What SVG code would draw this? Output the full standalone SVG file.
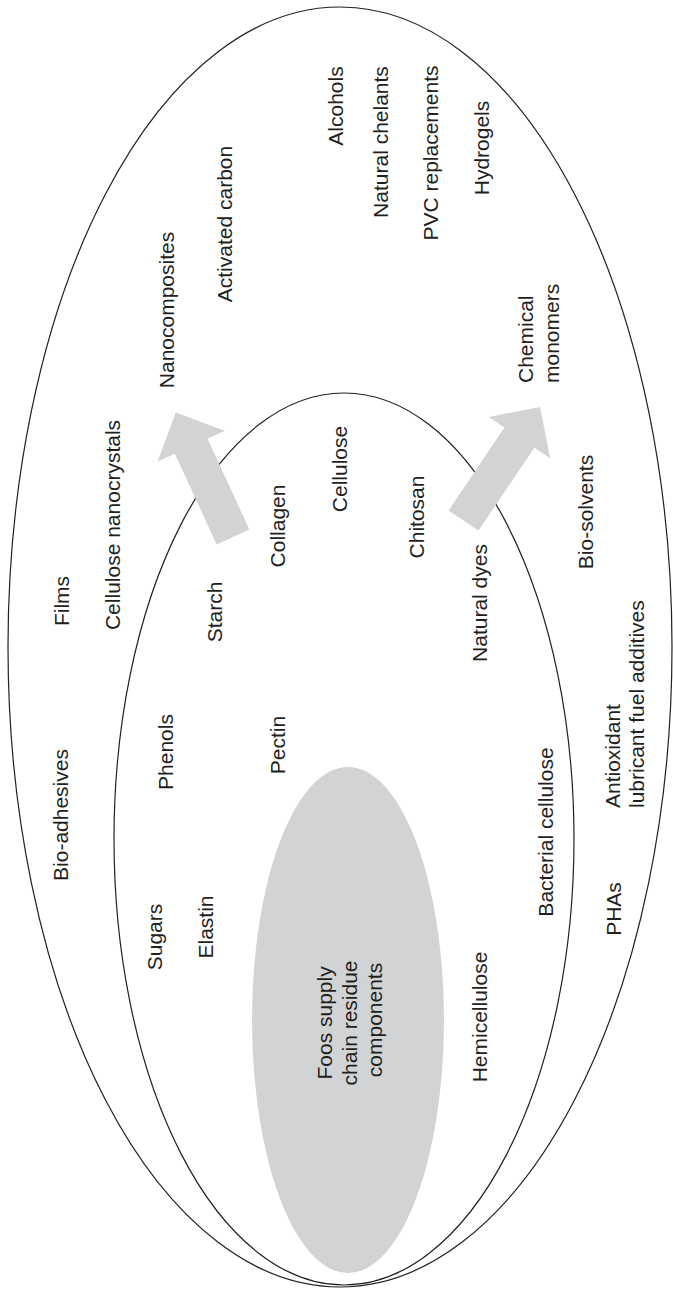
<svg xmlns="http://www.w3.org/2000/svg" width="673" height="1293" viewBox="0 0 673 1293">
  <style>
    .ring { fill: none; stroke: #231f20; stroke-width: 1.2; }
    .core { fill: #d1d3d4; stroke: none; }
    .lbl { font-family: "Liberation Sans", Arial, Helvetica, sans-serif; font-size: 21px; fill: #231f20; }
    .mid { text-anchor: middle; }
    .arrow { fill: #d1d3d4; stroke: none; }
  </style>
  <defs>
    <!-- block arrow, tail centred on the origin, pointing along -y -->
    <path id="blockArrow" d="M -18,0 L -18,-100 L -37,-100 L 0,-137 L 37,-100 L 18,-100 L 18,0 Z"/>
  </defs>
  <rect width="673" height="1293" fill="#ffffff"/>

  <!-- outer ellipse: products -->
  <g id="outer-ring">
    <ellipse class="ring" cx="340" cy="647" rx="332" ry="640"/>
  </g>

  <!-- inner ellipse: extracted components -->
  <g id="inner-ring">
    <ellipse class="ring" cx="344" cy="839" rx="230" ry="446"/>
  </g>

  <!-- shaded core -->
  <g id="core">
    <ellipse class="core" cx="348" cy="1020" rx="96" ry="253"/>
    <text class="lbl mid" transform="translate(332,1020) rotate(-90)">
      <tspan x="0" y="0">Foos supply</tspan>
      <tspan x="0" dy="25">chain residue</tspan>
      <tspan x="0" dy="25">components</tspan>
    </text>
  </g>

  <!-- arrows from the inner ring outwards -->
  <g id="connectors">
    <use href="#blockArrow" class="arrow" transform="translate(233,537) rotate(-24.7)"/>
    <use href="#blockArrow" class="arrow" transform="translate(463.5,520.5) rotate(34)"/>
  </g>

  <!-- outer ring labels -->
  <g id="alcohols"><text class="lbl mid" transform="translate(343,106) rotate(-90)">Alcohols</text></g>
  <g id="natural-chelants"><text class="lbl mid" transform="translate(388,142) rotate(-90)">Natural chelants</text></g>
  <g id="pvc-replacements"><text class="lbl mid" transform="translate(438,153) rotate(-90)">PVC replacements</text></g>
  <g id="hydrogels"><text class="lbl mid" transform="translate(489,148) rotate(-90)">Hydrogels</text></g>
  <g id="activated-carbon"><text class="lbl mid" transform="translate(232,224) rotate(-90)">Activated carbon</text></g>
  <g id="nanocomposites"><text class="lbl mid" transform="translate(174,310) rotate(-90)">Nanocomposites</text></g>
  <g id="chemical-monomers">
    <text class="lbl" transform="translate(533,383) rotate(-90)">
      <tspan x="0" y="0">Chemical</tspan>
      <tspan x="0" dy="26">monomers</tspan>
    </text>
  </g>
  <g id="films"><text class="lbl mid" transform="translate(69,601) rotate(-90)">Films</text></g>
  <g id="cellulose-nanocrystals"><text class="lbl mid" transform="translate(120,525) rotate(-90)">Cellulose nanocrystals</text></g>
  <g id="bio-adhesives"><text class="lbl mid" transform="translate(68,815) rotate(-90)">Bio-adhesives</text></g>
  <g id="bio-solvents"><text class="lbl mid" transform="translate(593,512) rotate(-90)">Bio-solvents</text></g>
  <g id="antioxidant-additives">
    <text class="lbl" transform="translate(620,808) rotate(-90)">
      <tspan x="0" y="0">Antioxidant</tspan>
      <tspan x="0" dy="24">lubricant fuel additives</tspan>
    </text>
  </g>
  <g id="phas"><text class="lbl mid" transform="translate(621,909) rotate(-90)">PHAs</text></g>

  <!-- inner ring labels -->
  <g id="cellulose"><text class="lbl mid" transform="translate(347,469) rotate(-90)">Cellulose</text></g>
  <g id="collagen"><text class="lbl mid" transform="translate(285,526) rotate(-90)">Collagen</text></g>
  <g id="chitosan"><text class="lbl mid" transform="translate(424,517) rotate(-90)">Chitosan</text></g>
  <g id="starch"><text class="lbl mid" transform="translate(222,612) rotate(-90)">Starch</text></g>
  <g id="natural-dyes"><text class="lbl mid" transform="translate(487,603) rotate(-90)">Natural dyes</text></g>
  <g id="phenols"><text class="lbl mid" transform="translate(173,752) rotate(-90)">Phenols</text></g>
  <g id="pectin"><text class="lbl mid" transform="translate(285,745) rotate(-90)">Pectin</text></g>
  <g id="bacterial-cellulose"><text class="lbl mid" transform="translate(553,832) rotate(-90)">Bacterial cellulose</text></g>
  <g id="sugars"><text class="lbl mid" transform="translate(162,937) rotate(-90)">Sugars</text></g>
  <g id="elastin"><text class="lbl mid" transform="translate(213,927) rotate(-90)">Elastin</text></g>
  <g id="hemicellulose"><text class="lbl mid" transform="translate(487,1017) rotate(-90)">Hemicellulose</text></g>
</svg>
